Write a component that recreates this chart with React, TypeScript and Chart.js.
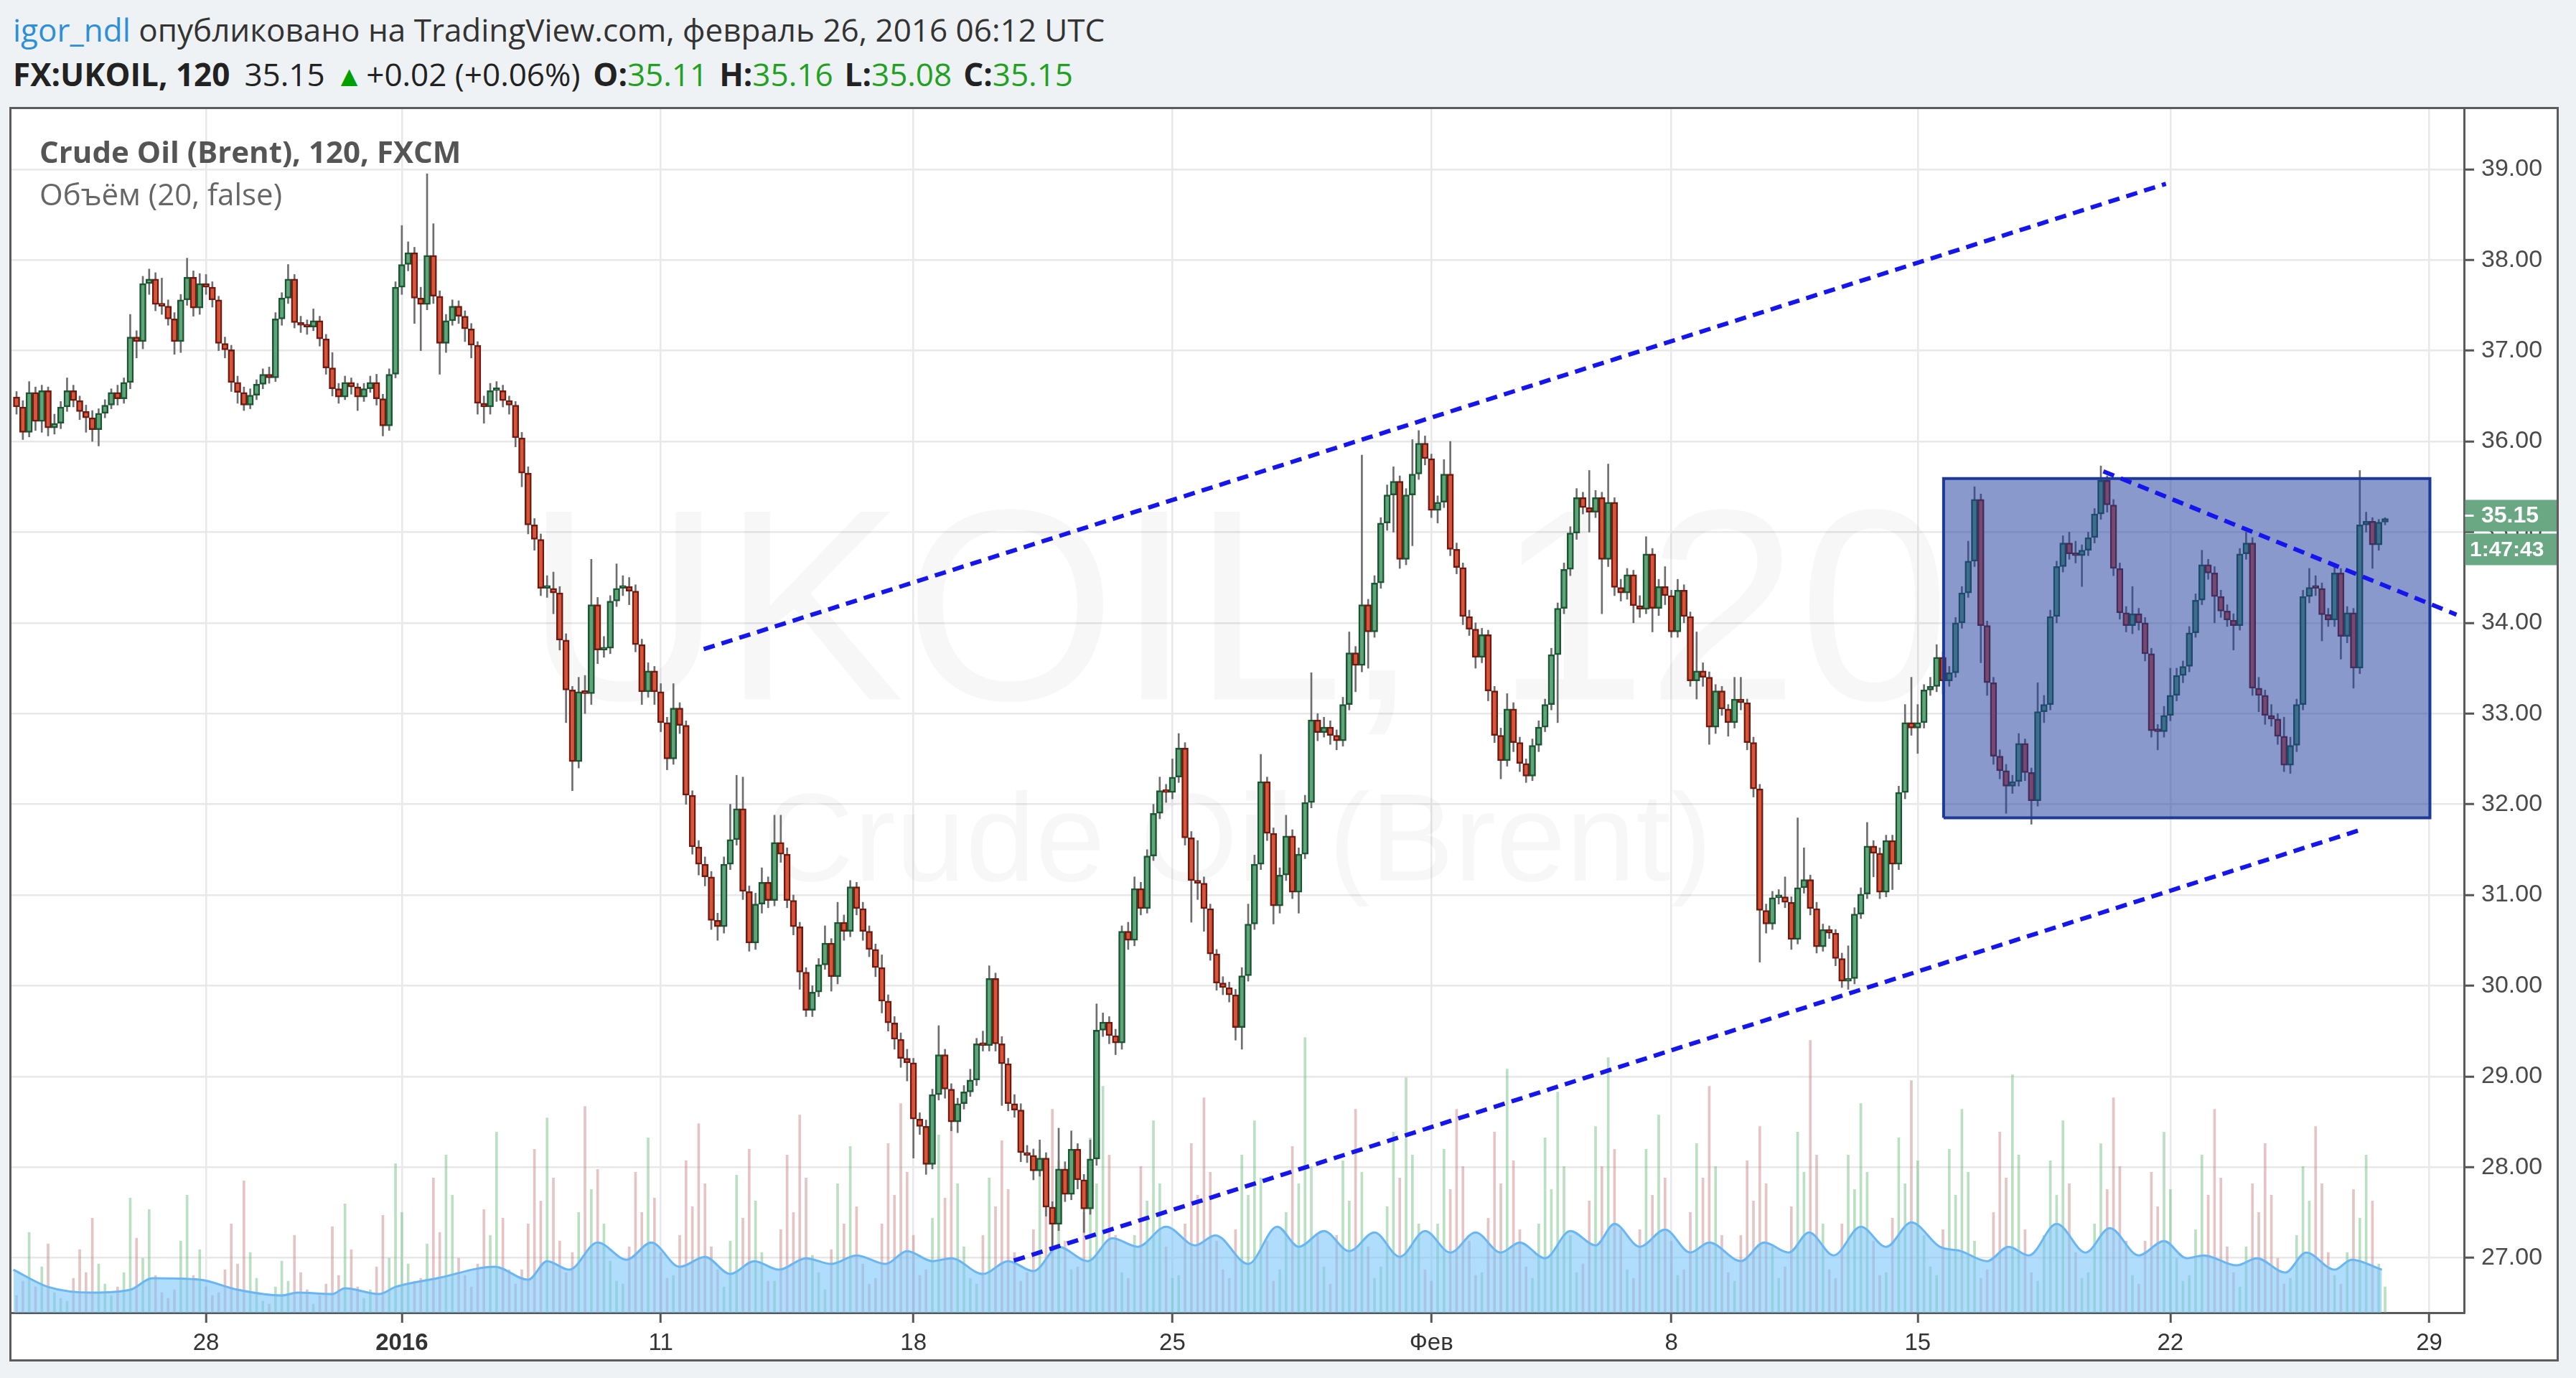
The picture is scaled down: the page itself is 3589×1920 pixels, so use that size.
import React, { useEffect, useRef } from 'react';
import { Chart, registerables } from 'chart.js';
Chart.register(...registerables);

// ---------- DATA (2-hour bars, FX:UKOIL) ----------
const opens = [
  36.49,36.38,36.10,36.54,36.22,36.56,36.15,36.20,36.38,36.56,
  36.45,36.33,36.26,36.13,36.31,36.40,36.54,36.47,36.65,37.15,
  37.10,37.74,37.79,37.51,37.49,37.35,37.10,37.56,37.81,37.47,
  37.74,37.70,37.56,37.08,37.01,36.65,36.54,36.40,36.51,36.63,
  36.74,36.70,37.35,37.58,37.79,37.31,37.28,37.26,37.33,37.13,
  36.81,36.58,36.49,36.65,36.60,36.49,36.58,36.65,36.47,36.17,
  36.74,37.70,37.95,38.08,37.58,37.51,38.05,37.60,37.08,37.33,
  37.49,37.38,37.24,37.06,36.42,36.38,36.56,36.56,36.45,36.40,
  36.04,35.65,35.08,34.92,34.38,34.38,34.33,33.81,33.26,32.47,
  33.24,33.22,34.20,33.70,33.72,34.24,34.38,34.40,34.35,33.76,
  33.24,33.47,33.24,32.90,32.50,33.06,32.87,32.10,31.53,31.34,
  31.20,30.72,30.65,31.34,31.61,31.95,31.04,30.47,30.90,31.14,
  30.94,31.58,31.45,30.94,30.65,30.15,29.73,29.93,30.23,30.47,
  30.10,30.70,30.60,31.09,30.85,30.60,30.40,30.20,29.83,29.59,
  29.41,29.20,29.15,28.53,28.45,28.03,28.80,29.24,28.86,28.50,
  28.70,28.83,28.96,29.36,29.34,30.08,29.36,29.14,28.70,28.63,
  28.16,28.13,27.96,28.10,27.56,27.37,27.98,27.70,28.20,27.86,
  27.54,28.09,29.51,29.60,29.45,29.37,30.60,30.50,31.07,30.85,
  31.43,31.90,32.15,32.13,32.30,32.62,31.63,31.16,31.13,30.85,
  30.35,30.03,29.98,29.90,29.54,30.11,30.68,31.34,32.25,31.68,
  30.88,31.22,31.65,31.03,31.45,32.02,32.93,32.79,32.85,32.76,
  32.70,33.10,33.67,33.53,34.20,33.90,34.44,35.10,35.41,35.56,
  34.70,35.41,35.64,35.98,35.81,35.24,35.33,35.64,34.81,34.61,
  34.07,33.93,33.62,33.87,33.25,32.76,32.48,33.05,32.68,32.45,
  32.31,32.65,32.85,33.10,33.65,34.16,34.59,34.99,35.38,35.27,
  35.22,35.38,34.70,35.33,34.39,34.33,34.53,34.19,34.15,34.76,
  34.16,34.40,34.30,33.90,34.36,34.07,33.36,33.47,33.40,32.85,
  33.25,33.05,32.90,33.16,33.12,32.68,32.17,30.83,30.68,30.97,
  30.98,30.92,30.51,31.08,31.17,30.85,30.43,30.62,30.58,30.30,
  30.05,30.08,30.79,31.01,31.54,31.46,31.03,31.60,31.34,32.13,
  32.90,32.84,32.90,33.26,33.30,33.62,33.36,33.45,34.00,34.33,
  34.68,35.36,33.97,33.34,32.53,32.37,32.20,32.25,32.67,32.35,
  32.04,33.02,33.10,34.07,34.62,34.88,34.76,34.74,34.80,34.94,
  35.20,35.57,35.30,34.60,34.11,33.97,34.10,34.00,33.66,32.81,
  32.80,32.98,33.20,33.42,33.52,33.89,34.25,34.64,34.55,34.29,
  34.13,34.03,33.97,34.76,34.88,33.28,33.20,32.98,32.94,32.75,
  32.43,32.65,33.10,34.29,34.39,34.38,34.09,34.03,34.55,33.85,
  34.11,33.50,35.08,35.12,34.86,35.11,
];
const highs = [
  36.55,36.45,36.66,36.60,36.62,36.60,36.30,36.44,36.70,36.62,
  36.50,36.40,36.34,36.36,36.46,36.58,36.62,36.70,37.40,37.22,
  37.82,37.90,37.86,37.80,37.56,37.42,37.62,38.02,37.88,37.85,
  37.84,37.76,37.60,37.15,37.06,36.72,36.60,36.58,36.68,36.80,
  36.82,37.42,37.64,37.95,37.84,37.38,37.34,37.46,37.38,37.18,
  36.98,36.64,36.72,36.70,36.64,36.64,36.72,36.74,36.52,36.80,
  37.76,38.38,38.20,38.14,37.70,38.95,38.40,37.66,37.40,37.56,
  37.55,37.44,37.30,37.10,36.50,36.64,36.66,36.62,36.50,36.44,
  36.10,35.72,35.15,34.98,34.52,34.56,34.40,33.88,33.30,33.40,
  33.42,34.70,34.28,33.85,34.30,34.65,34.52,34.50,34.42,33.82,
  33.56,33.52,33.33,32.96,33.33,33.12,32.92,32.15,31.60,31.42,
  31.26,30.80,31.42,32.00,32.32,32.30,31.10,31.02,31.30,31.20,
  31.88,31.88,31.52,31.00,30.70,30.20,30.00,30.30,30.66,30.52,
  30.92,30.78,31.16,31.14,30.92,30.66,30.46,30.34,29.90,29.66,
  29.48,29.30,29.20,28.60,28.52,28.86,29.56,29.30,28.92,28.76,
  28.90,29.08,29.42,29.50,30.22,30.14,29.44,29.20,28.80,28.70,
  28.24,28.20,28.30,28.16,27.62,28.43,28.06,28.40,28.26,27.92,
  28.30,29.80,29.70,29.66,29.52,30.66,30.70,31.20,31.14,31.50,
  32.00,32.30,32.22,32.50,32.78,32.68,31.70,31.60,31.20,30.90,
  30.40,30.10,30.04,29.96,30.20,30.90,31.44,32.55,32.30,31.74,
  31.30,31.88,31.72,31.52,32.10,33.45,33.00,32.96,32.92,32.82,
  33.18,33.90,33.74,35.85,34.26,34.52,35.16,35.52,35.72,35.62,
  35.48,36.02,36.12,36.06,35.86,35.40,35.80,36.00,34.88,34.66,
  34.14,34.00,33.94,33.92,33.30,32.84,33.22,33.12,32.74,32.50,
  32.72,32.92,33.16,33.72,34.22,34.66,35.06,35.48,35.44,35.68,
  35.46,35.44,35.75,35.38,34.48,34.60,34.58,34.30,34.95,34.82,
  34.48,34.62,34.36,34.48,34.42,34.12,33.90,33.56,33.46,33.32,
  33.30,33.10,33.40,33.40,33.16,32.74,32.22,30.90,31.04,31.06,
  31.20,30.98,31.85,31.52,31.22,30.92,30.68,30.66,30.62,30.36,
  30.44,30.86,31.08,31.80,31.60,31.52,31.66,31.66,32.20,33.10,
  33.40,33.10,33.32,33.40,33.76,33.68,33.52,34.06,34.40,34.90,
  35.50,35.42,34.02,33.40,32.60,32.44,32.32,32.78,32.72,32.40,
  33.34,33.20,34.14,34.68,34.96,35.00,34.90,34.86,35.00,35.26,
  35.73,35.62,35.36,34.66,34.18,34.40,34.16,34.06,33.72,32.88,
  33.08,33.50,33.50,33.58,33.96,34.32,34.80,34.70,34.62,34.36,
  34.20,34.10,34.82,35.00,34.94,33.40,33.26,33.10,33.00,32.96,
  32.74,33.16,34.36,34.60,34.52,34.44,34.16,34.62,34.60,34.18,
  34.16,35.68,35.22,35.16,35.14,35.16,
];
const lows = [
  36.30,36.02,36.05,36.12,36.10,36.06,36.08,36.14,36.33,36.38,
  36.24,36.10,36.00,35.95,36.26,36.36,36.40,36.42,36.58,36.92,
  37.02,37.62,37.44,37.40,37.28,36.96,36.98,37.50,37.38,37.40,
  37.62,37.48,37.00,36.92,36.55,36.42,36.34,36.36,36.46,36.58,
  36.64,36.66,37.28,37.52,37.25,37.20,37.18,37.22,37.05,36.74,
  36.50,36.42,36.46,36.52,36.34,36.44,36.54,36.40,36.06,36.12,
  36.70,37.62,37.88,37.30,37.00,37.45,37.52,36.74,36.98,37.28,
  37.30,37.10,36.92,36.30,36.20,36.30,36.44,36.38,36.30,35.94,
  35.50,34.98,34.80,34.30,34.28,34.10,33.70,32.90,32.15,32.40,
  33.00,33.10,33.55,33.62,33.66,34.18,34.30,34.20,33.68,33.10,
  33.18,33.10,32.80,32.38,32.44,32.78,32.00,31.45,31.22,31.10,
  30.62,30.50,30.58,31.28,31.55,30.95,30.38,30.40,30.80,30.86,
  30.88,31.36,30.86,30.56,29.96,29.66,29.66,29.88,30.18,29.94,
  30.02,30.50,30.54,30.78,30.50,30.32,30.10,29.70,29.50,29.30,
  29.10,28.95,28.10,28.36,27.92,27.98,28.74,28.76,28.40,28.38,
  28.64,28.78,28.90,29.28,29.28,29.28,28.68,28.62,28.55,28.06,
  28.05,27.86,27.90,27.46,27.08,27.30,27.62,27.64,27.76,27.28,
  27.48,28.02,29.44,29.36,29.24,29.30,30.40,30.44,30.78,30.80,
  31.38,31.84,32.02,32.06,32.24,31.55,30.70,30.95,30.60,30.28,
  29.95,29.90,29.82,29.40,29.30,30.05,30.62,31.28,31.60,30.68,
  30.80,31.16,30.96,30.80,31.40,31.96,32.70,32.74,32.66,32.60,
  32.64,33.04,33.24,33.46,33.50,33.84,34.38,35.02,35.00,34.60,
  34.64,34.85,35.58,35.74,35.16,35.10,35.27,34.74,34.54,33.98,
  33.86,33.50,33.56,33.14,32.68,32.28,32.42,32.58,32.36,32.24,
  32.26,32.58,32.80,33.04,32.90,34.10,34.52,34.92,35.20,35.00,
  35.16,34.10,34.62,34.30,34.24,34.26,34.00,34.06,34.10,33.90,
  34.08,34.20,33.84,33.84,34.00,33.30,33.16,33.30,32.66,32.78,
  32.98,32.75,32.84,33.04,32.60,32.08,30.26,30.58,30.62,30.90,
  30.86,30.40,30.46,31.02,30.78,30.36,30.38,30.52,30.22,29.98,
  29.96,30.02,30.74,30.96,31.20,30.96,30.98,31.06,31.28,32.06,
  32.76,32.56,32.84,33.20,33.24,33.22,33.30,33.40,33.94,34.28,
  34.62,33.56,33.20,32.44,32.28,31.90,32.12,32.20,32.26,31.78,
  31.98,32.90,33.04,34.00,34.56,34.70,34.66,34.40,34.74,34.88,
  35.14,35.22,34.52,34.04,33.90,33.88,33.92,33.58,32.74,32.60,
  32.74,32.92,33.14,33.34,33.46,33.84,34.20,34.48,34.00,34.06,
  33.96,33.70,33.92,34.70,33.20,33.02,32.88,32.86,32.66,32.36,
  32.34,32.58,33.04,34.22,34.30,33.80,33.96,33.96,33.60,33.78,
  33.28,33.44,35.00,34.60,34.80,35.08,
];
const closes = [
  36.38,36.10,36.54,36.22,36.56,36.15,36.20,36.38,36.56,36.45,
  36.33,36.26,36.13,36.31,36.40,36.54,36.47,36.65,37.15,37.10,
  37.74,37.79,37.51,37.49,37.35,37.10,37.56,37.81,37.47,37.74,
  37.70,37.56,37.08,37.01,36.65,36.54,36.40,36.51,36.63,36.74,
  36.70,37.35,37.58,37.79,37.31,37.28,37.26,37.33,37.13,36.81,
  36.58,36.49,36.65,36.60,36.49,36.58,36.65,36.47,36.17,36.74,
  37.70,37.95,38.08,37.58,37.51,38.05,37.60,37.08,37.33,37.49,
  37.38,37.24,37.06,36.42,36.38,36.56,36.56,36.45,36.40,36.04,
  35.65,35.08,34.92,34.38,34.38,34.33,33.81,33.26,32.47,33.24,
  33.22,34.20,33.70,33.72,34.24,34.38,34.40,34.35,33.76,33.24,
  33.47,33.24,32.90,32.50,33.06,32.87,32.10,31.53,31.34,31.20,
  30.72,30.65,31.34,31.61,31.95,31.04,30.47,30.90,31.14,30.94,
  31.58,31.45,30.94,30.65,30.15,29.73,29.93,30.23,30.47,30.10,
  30.70,30.60,31.09,30.85,30.60,30.40,30.20,29.83,29.59,29.41,
  29.20,29.15,28.53,28.45,28.03,28.80,29.24,28.86,28.50,28.70,
  28.83,28.96,29.36,29.34,30.08,29.36,29.14,28.70,28.63,28.16,
  28.13,27.96,28.10,27.56,27.37,27.98,27.70,28.20,27.86,27.54,
  28.09,29.51,29.60,29.45,29.37,30.60,30.50,31.07,30.85,31.43,
  31.90,32.15,32.13,32.30,32.62,31.63,31.16,31.13,30.85,30.35,
  30.03,29.98,29.90,29.54,30.11,30.68,31.34,32.25,31.68,30.88,
  31.22,31.65,31.03,31.45,32.02,32.93,32.79,32.85,32.76,32.70,
  33.10,33.67,33.53,34.20,33.90,34.44,35.10,35.41,35.56,34.70,
  35.41,35.64,35.98,35.81,35.24,35.33,35.64,34.81,34.61,34.07,
  33.93,33.62,33.87,33.25,32.76,32.48,33.05,32.68,32.45,32.31,
  32.65,32.85,33.10,33.65,34.16,34.59,34.99,35.38,35.27,35.22,
  35.38,34.70,35.33,34.39,34.33,34.53,34.19,34.15,34.76,34.16,
  34.40,34.30,33.90,34.36,34.07,33.36,33.47,33.40,32.85,33.25,
  33.05,32.90,33.16,33.12,32.68,32.17,30.83,30.68,30.97,30.98,
  30.92,30.51,31.08,31.17,30.85,30.43,30.62,30.58,30.30,30.05,
  30.08,30.79,31.01,31.54,31.46,31.03,31.60,31.34,32.13,32.90,
  32.84,32.90,33.26,33.30,33.62,33.36,33.45,34.00,34.33,34.68,
  35.36,33.97,33.34,32.53,32.37,32.20,32.25,32.67,32.35,32.04,
  33.02,33.10,34.07,34.62,34.88,34.76,34.74,34.80,34.94,35.20,
  35.57,35.30,34.60,34.11,33.97,34.10,34.00,33.66,32.81,32.80,
  32.98,33.20,33.42,33.52,33.89,34.25,34.64,34.55,34.29,34.13,
  34.03,33.97,34.76,34.88,33.28,33.20,32.98,32.94,32.75,32.43,
  32.65,33.10,34.29,34.39,34.38,34.09,34.03,34.55,33.85,34.11,
  33.50,35.08,35.12,34.86,35.11,35.15,
];
const volumes = [
  6,11,28,9,16,24,7,5, 4,12,22,14,33,17,10,6, 9,14,40,26,19,36,13,7, 5,8,25,41,13,22,9,6,
  7,15,31,17,46,21,12,4, 3,9,18,11,27,14,8,3, 6,10,30,13,38,22,9,5, 8,16,34,19,52,35,17,11,
  12,24,47,28,55,41,19,13, 9,17,36,27,63,33,15,10, 15,31,57,39,68,47,25,14, 21,35,72,43,50,31,18,11,
  10,23,49,35,61,40,21,12, 13,27,53,37,66,45,23,15, 9,25,48,33,57,39,21,11, 11,29,55,35,69,47,20,14,
  8,22,45,31,58,37,17,10, 12,31,59,41,73,49,27,13, 15,33,62,40,65,45,23,12, 10,27,47,37,60,43,21,11,
  14,29,57,39,71,53,25,15, 16,35,61,45,79,55,27,14, 12,27,51,39,67,45,23,12, 13,31,59,41,75,49,25,15,
  12,29,55,41,67,47,25,11, 15,35,58,45,96,51,27,16, 10,27,53,39,71,49,23,12, 16,37,63,47,82,55,31,15,
  11,31,57,43,71,51,25,13, 14,33,63,45,85,53,29,16, 12,31,61,43,77,51,27,14, 17,39,65,51,89,57,29,15,
  12,29,57,41,69,47,25,13, 15,35,59,47,79,51,27,14, 11,27,53,39,65,45,23,12, 16,37,63,49,95,55,31,15,
  12,31,55,43,73,49,25,13, 14,33,61,45,81,53,27,16, 13,29,57,41,71,49,25,12, 15,35,63,47,83,55,29,14,
  11,27,53,41,67,45,21,12, 14,31,59,43,75,51,25,13, 10,25,49,37,63,43,19,11, 13,29,55,41,71,47,23,14,
  9,23,45,35,59,41,19,10, 12,27,51,39,65,45,21,13, 10,21,43,33,55,39,17,9,
];
// Volume moving-average outline (bar index, value)
const maIdx = [0.5,6,13,19,22.5,30,36,43,45.5,51,53,58.4,61,67.6,76.7,82,85,88.5,93,97.6,101.5,106,110,114,117.8,121.7,126,130,134,138.6,142,146,149,154,158,162,166,170.6,174.5,178.5,183,187.6,190.8,196,200.6,204,208,212,216,220,224,228,232,236,239,243,247,251,254,258,262,266,269,274,277.7,281.6,284.8,288.7,293,297,301,305.5,308.8,313,316.4,319.6,324,328.6,332.4,337,341,344.6,347.3,352.5,355.7,360.2,363.5,368,370.7,375.5];
const maVal = [15,9,7,8,12,11.5,8,6,7,6.5,8.5,6.5,9,12,16,11.5,18,15,24.5,18.5,24.5,16,19.5,13.5,18,15,19,17,20,17,21.5,18,19,13.5,18,14.5,23,18,26,23,30,23.5,27,17,30,23,28.5,21.5,28,19.5,28.5,21,28,21,24.5,19,28.5,23.5,31,23,29,21,24.5,18,24.5,21,28,20,30,23,31.5,23,21.5,18,23,20,31,21,29.5,20,25,19,20,16.5,19,14,21,15,18.5,15];

const xTickIdx = [31, 62, 103, 143, 184, 225, 263, 302, 342, 383];
const xTickLabels = ['28', '2016', '11', '18', '25', 'Фев', '8', '15', '22', '29'];
const yTicks = [27, 28, 29, 30, 31, 32, 33, 34, 35, 36, 37, 38, 39];

const upperChannel = [{ x: 109.8, y: 33.71 }, { x: 341.3, y: 38.84 }];
const lowerChannel = [{ x: 158.9, y: 26.97 }, { x: 372.2, y: 31.72 }];
const fallingLine = [{ x: 331.4, y: 35.67 }, { x: 387.3, y: 34.09 }];
const boxXs = [306.1, 383.1];
const boxYs = [31.85, 35.59];

const lastPrice = 35.15;
const countdown = '1:47:43';

// ---------- STYLE ----------
const AXIS_FONT = '"Liberation Sans", Arial, sans-serif';
const UI_FONT = '"Open Sans", "Noto Sans", sans-serif';
const UP_FILL = '#5fa57a';
const UP_EDGE = '#1b5532';
const DN_FILL = '#d9553a';
const DN_EDGE = '#6e1a11';

export default function App() {
  const ref = useRef<HTMLCanvasElement>(null);

  useEffect(() => {
    const canvas = ref.current;
    if (!canvas) return;
    const xs = closes.map((_, i) => i + 1);
    const up = closes.map((c, i) => c >= opens[i]);

    const overlay = {
      id: 'overlay',
      beforeDatasetsDraw(chart: any) {
        const { ctx, chartArea } = chart;
        ctx.save();
        ctx.beginPath();
        ctx.rect(chartArea.left, chartArea.top, chartArea.right - chartArea.left, chartArea.bottom - chartArea.top);
        ctx.clip();
        ctx.fillStyle = 'rgba(0,0,0,0.033)';
        ctx.textAlign = 'center';
        ctx.textBaseline = 'middle';
        const cx = (chartArea.left + chartArea.right) / 2;
        const h = chartArea.bottom - chartArea.top;
        ctx.font = '380px ' + AXIS_FONT;
        ctx.fillText('UKOIL, 120', cx, chartArea.top + h * 0.428);
        ctx.font = '175px ' + AXIS_FONT;
        ctx.fillText('Crude Oil (Brent)', cx, chartArea.top + h * 0.612);
        ctx.restore();
      },
      afterDraw(chart: any) {
        const { ctx, chartArea, width } = chart;
        const py = chart.scales.y.getPixelForValue(lastPrice);
        const left = chartArea.right + 1.5;
        ctx.save();
        ctx.fillStyle = '#69a882';
        ctx.fillRect(left, py - 26, width - left, 44);
        ctx.fillRect(left, py + 21, width - left, 44);
        ctx.strokeStyle = '#ffffff';
        ctx.lineWidth = 3;
        ctx.beginPath();
        ctx.moveTo(left, py - 4);
        ctx.lineTo(left + 12, py - 4);
        ctx.stroke();
        ctx.fillStyle = '#ffffff';
        ctx.textAlign = 'left';
        ctx.textBaseline = 'middle';
        ctx.font = 'bold 32px ' + AXIS_FONT;
        ctx.fillText(lastPrice.toFixed(2), chartArea.right + 24, py - 3);
        ctx.font = 'bold 30px ' + AXIS_FONT;
        ctx.fillText(countdown, chartArea.right + 8, py + 44);
        ctx.restore();
      },
    };

    const chart = new Chart(canvas, {
      type: 'bar',
      data: {
        datasets: [
          {
            type: 'bar',
            yAxisID: 'yVol',
            data: xs.map((x, i) => ({ x, y: volumes[i] })),
            backgroundColor: up.map((u) => (u ? 'rgba(105,185,120,0.45)' : 'rgba(195,125,125,0.45)')),
            barThickness: 3,
            grouped: false,
            order: 10,
          } as any,
          {
            type: 'line',
            yAxisID: 'yVol',
            data: maIdx.map((x, i) => ({ x, y: maVal[i] })),
            borderColor: 'rgba(105,182,242,1)',
            borderWidth: 3,
            backgroundColor: 'rgba(120,196,250,0.58)',
            fill: 'origin',
            pointRadius: 0,
            cubicInterpolationMode: 'monotone',
            order: 9,
          } as any,
          {
            type: 'bar',
            data: xs.map((x, i) => ({ x, y: [lows[i], highs[i]] })),
            backgroundColor: '#6e6e6e',
            barThickness: 2,
            grouped: false,
            order: 8,
          } as any,
          {
            type: 'bar',
            data: xs.map((x, i) => ({ x, y: [opens[i], closes[i]] })),
            backgroundColor: up.map((u) => (u ? UP_FILL : DN_FILL)),
            borderColor: up.map((u) => (u ? UP_EDGE : DN_EDGE)),
            borderWidth: 2.5,
            borderSkipped: false,
            minBarLength: 4,
            barThickness: 9,
            grouped: false,
            order: 7,
          } as any,
          {
            type: 'line',
            data: [{ x: boxXs[0], y: boxYs[1] }, { x: boxXs[1], y: boxYs[1] }],
            borderWidth: 0,
            backgroundColor: 'rgba(32,62,158,0.53)',
            fill: { value: boxYs[0] },
            pointRadius: 0,
            order: 6,
          } as any,
          {
            type: 'line',
            data: [
              { x: boxXs[0], y: boxYs[0] },
              { x: boxXs[0], y: boxYs[1] },
              { x: boxXs[1], y: boxYs[1] },
              { x: boxXs[1], y: boxYs[0] },
              { x: boxXs[0], y: boxYs[0] },
            ],
            borderColor: '#1d3a96',
            borderWidth: 4,
            fill: false,
            pointRadius: 0,
            order: 5,
          } as any,
          ...[upperChannel, lowerChannel, fallingLine].map((pts, k) => ({
            type: 'line',
            data: pts,
            borderColor: '#1515ee',
            borderWidth: 6,
            borderDash: [16, 10],
            fill: false,
            pointRadius: 0,
            order: 1 + k,
          })) as any,
        ],
      },
      options: {
        responsive: false,
        animation: false,
        devicePixelRatio: 1,
        layout: { padding: 0 },
        events: [],
        plugins: { legend: { display: false }, tooltip: { enabled: false } },
        scales: {
          x: {
            type: 'linear',
            position: 'bottom',
            min: 0.2,
            max: 388.5,
            offset: false,
            grid: {
              offset: false,
              color: '#e8e8e8',
              lineWidth: 2.5,
              drawTicks: true,
              tickLength: 14,
              tickColor: '#555',
              tickWidth: 3,
            },
            border: { display: true, color: '#5a5a5a', width: 3 },
            ticks: {
              autoSkip: false,
              maxRotation: 0,
              padding: 9,
              color: '#333',
              font: (c: any) => ({
                family: AXIS_FONT,
                size: 33,
                weight: c.tick && c.tick.label === '2016' ? 'bold' : 'normal',
              }),
              callback: (v: any) => {
                const k = xTickIdx.indexOf(Number(v));
                return k >= 0 ? xTickLabels[k] : '';
              },
            },
            afterBuildTicks: (axis: any) => {
              axis.ticks = xTickIdx.map((v) => ({ value: v }));
            },
            afterFit: (axis: any) => {
              axis.height = 65;
              axis.paddingLeft = 0;
              axis.paddingRight = 0;
            },
          } as any,
          y: {
            type: 'linear',
            position: 'right',
            min: 26.396,
            max: 39.663,
            grid: {
              color: '#e8e8e8',
              lineWidth: 2.5,
              drawTicks: true,
              tickLength: 14,
              tickColor: '#555',
              tickWidth: 3,
            },
            border: { display: true, color: '#5a5a5a', width: 3 },
            ticks: {
              padding: 10,
              color: '#4a4a4a',
              font: { family: AXIS_FONT, size: 34 },
              callback: (v: any) => Number(v).toFixed(2),
            },
            afterBuildTicks: (axis: any) => {
              axis.ticks = yTicks.map((v) => ({ value: v }));
            },
            afterFit: (axis: any) => {
              axis.width = 129;
              axis.paddingTop = 0;
              axis.paddingBottom = 0;
            },
          } as any,
          yVol: {
            type: 'linear',
            axis: 'y',
            display: false,
            min: 0,
            max: 420,
          } as any,
        },
      },
      plugins: [overlay],
    } as any);
    return () => chart.destroy();
  }, []);

  const green = { color: '#22a022' };
  const bold = { fontWeight: 700 as const };
  return (
    <div
      style={{
        position: 'absolute',
        left: 0,
        top: 0,
        width: 3589,
        height: 1920,
        background: '#eff2f5',
        overflow: 'hidden',
        fontFamily: UI_FONT,
      }}
    >
      <div style={{ position: 'absolute', left: 18, top: 16, fontSize: 44, lineHeight: '50px', color: '#333', whiteSpace: 'nowrap' }}>
        <span style={{ color: '#2d8fd5' }}>igor_ndl</span> опубликовано на TradingView.com, февраль 26, 2016 06:12 UTC
      </div>
      <div style={{ position: 'absolute', left: 18, top: 78, fontSize: 44, lineHeight: '50px', color: '#222', whiteSpace: 'nowrap' }}>
        <span style={bold}>FX:UKOIL, 120</span>
        <span style={{ marginLeft: 20 }}>35.15</span>
        <span style={{ color: '#00a000', marginLeft: 14, fontSize: 40 }}>▲</span>
        <span style={{ marginLeft: 4 }}>+0.02 (+0.06%)</span>
        <span style={{ ...bold, marginLeft: 18 }}>O:</span>
        <span style={green}>35.11</span>
        <span style={{ ...bold, marginLeft: 16 }}>H:</span>
        <span style={green}>35.16</span>
        <span style={{ ...bold, marginLeft: 16 }}>L:</span>
        <span style={green}>35.08</span>
        <span style={{ ...bold, marginLeft: 16 }}>C:</span>
        <span style={green}>35.15</span>
      </div>
      <div
        style={{
          position: 'absolute',
          left: 13,
          top: 149,
          width: 3552,
          height: 1748,
          border: '3px solid #5c5c5c',
          boxSizing: 'border-box',
          background: '#ffffff',
        }}
      >
        <canvas ref={ref} width={3546} height={1742} style={{ display: 'block', width: 3546, height: 1742 }} />
      </div>
      <div style={{ position: 'absolute', left: 55, top: 186, fontSize: 42, lineHeight: '50px', color: '#555', fontWeight: 700, whiteSpace: 'nowrap' }}>
        Crude Oil (Brent), 120, FXCM
      </div>
      <div style={{ position: 'absolute', left: 55, top: 245, fontSize: 42, lineHeight: '50px', color: '#666', whiteSpace: 'nowrap' }}>
        Объём (20, false)
      </div>
    </div>
  );
}
